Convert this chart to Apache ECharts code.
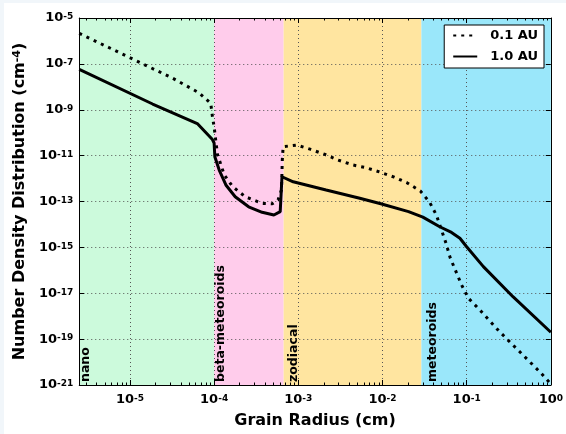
<!DOCTYPE html>
<html>
<head>
<meta charset="utf-8">
<script src="https://cdn.jsdelivr.net/npm/echarts@6/dist/echarts.min.js"></script>
<style>
  html, body { margin: 0; padding: 0; background: #ffffff; }
  #chart { width: 566px; height: 434px; }
</style>
</head>
<body>
<div id="chart"></div>
<script>
// Grain radius (cm) and number density (cm^-4) at 1.0 AU
const radius1AU = [2.5e-6, 1.86e-5, 6.31e-5, 9.55e-5, 1.0e-4, 1.02e-4, 1.15e-4, 1.38e-4, 1.78e-4,
  2.57e-4, 3.72e-4, 5.13e-4, 6.1e-4, 6.4e-4, 8.7e-4, 2.14e-3, 5.37e-3, 9.55e-3, 2.04e-2,
  3.02e-2, 4.79e-2, 6.61e-2, 8.32e-2, 0.1, 0.158, 0.355, 1.0];
const density1AU = [5.75e-8, 1.78e-9, 2.51e-10, 5.01e-11, 3.55e-11, 8.9e-12, 2.34e-12, 5.25e-13, 1.62e-13,
  5.89e-14, 3.39e-14, 2.57e-14, 3.6e-14, 1.2e-12, 7.24e-13, 3.16e-13, 1.38e-13, 7.94e-14, 3.63e-14,
  2.09e-14, 7.94e-15, 4.47e-15, 2.51e-15, 1.07e-15, 1.45e-16, 7.08e-18, 2.0e-19];

// Grain radius (cm) and number density (cm^-4) at 0.1 AU
const radius01AU = [2.5e-6, 3.24e-5, 6.61e-5, 9.12e-5, 9.55e-5, 1.0e-4, 1.05e-4, 1.10e-4, 1.17e-4,
  1.32e-4, 1.66e-4, 2.34e-4, 3.72e-4, 4.9e-4, 5.75e-4, 6.31e-4, 6.46e-4, 6.61e-4, 9.55e-4,
  1.38e-3, 2.04e-3, 2.95e-3, 4.47e-3, 6.31e-3, 9.55e-3, 1.38e-2, 1.95e-2, 2.82e-2, 3.63e-2,
  4.37e-2, 5.69e-2, 6.37e-2, 8.71e-2, 0.105, 0.141, 0.245, 0.427, 0.759, 1.0];
const density01AU = [2.14e-6, 2.34e-8, 5.5e-9, 1.91e-9, 5.01e-10, 1.82e-10, 4.07e-11, 1.07e-11, 5.5e-12,
  1.45e-12, 4.47e-13, 1.62e-13, 8.3e-14, 7.94e-14, 1.17e-13, 3.16e-13, 6.46e-12, 2.45e-11, 2.88e-11,
  1.91e-11, 1.15e-11, 6.46e-12, 3.89e-12, 3.02e-12, 1.86e-12, 1.15e-12, 6.61e-13, 2.88e-13, 9.33e-14,
  2.57e-14, 1.51e-15, 3.55e-16, 2.29e-17, 6.03e-18, 2.0e-18, 2.14e-19, 2.82e-20, 3.39e-21, 1.12e-21];

// Dust population regions
const regionNames = ['nano', 'beta-meteoroids', 'zodiacal', 'meteoroids'];
const regionStart = [2.5e-6, 1.0e-4, 6.7e-4, 2.9e-2];
const regionEnd = [1.0e-4, 6.7e-4, 2.9e-2, 1.0];
const regionColors = ['#ccfadc', '#ffcceb', '#ffe5a0', '#9ae7fa'];

const seriesNames = ['0.1 AU', '1.0 AU'];

// Axis limits: radius in cm (log axis), density as decade exponent (10^n)
const xMin = 2.5e-6, xMax = 1.0;
const yMinExp = -21, yMaxExp = -5, yStepExp = 2;

// Minor tick positions on the radius axis (2..9 x 10^n)
const minorTicks = [];
for (let n = -6; n <= -1; n++) {
  for (let k = 2; k <= 9; k++) {
    const v = k * Math.pow(10, n);
    if (v > xMin && v < xMax) minorTicks.push(v);
  }
}

const FONT = 'DejaVu Sans';

function xPowLabel(v) {
  const e = Math.log10(v);
  const r = Math.round(e);
  if (Math.abs(e - r) > 1e-6) return '';
  return '{b|10}{s|' + r + '}';
}
function yPowLabel(e) {
  return '{b|10}{s|' + Math.round(e) + '}';
}

const tickRich = {
  b: { fontFamily: FONT, fontWeight: 'bold', fontSize: 13, lineHeight: 13, padding: [4, 0, 0, 0], verticalAlign: 'bottom', color: '#000' },
  s: { fontFamily: FONT, fontWeight: 'bold', fontSize: 9, lineHeight: 9, padding: [1, 0, 0, 0], verticalAlign: 'top', color: '#000' }
};

const chart = echarts.init(document.getElementById('chart'), null, { renderer: 'canvas' });

const gridLine = { show: true, lineStyle: { color: '#555', width: 1, type: [1, 3] } };

function toPoints(xs, ys) {
  return xs.map((r, i) => [r, Math.log10(ys[i])]);
}

// horizontal nudge of each region name from its region's left edge (px)
const nameNudge = [-0.5, 0.5, 3.5, 4.5];

chart.setOption({
  backgroundColor: '#ffffff',
  animation: false,
  graphic: [
    { type: 'rect', left: 0, top: 0, shape: { width: 4, height: 434 }, style: { fill: '#f1f6fa' }, silent: true },
    { type: 'rect', left: 0, top: 0, shape: { width: 566, height: 3 }, style: { fill: '#f1f6fa' }, silent: true }
  ],
  grid: { left: 76, right: 14.5, top: 18, bottom: 49, show: false },
  legend: {
    data: seriesNames,
    orient: 'vertical',
    right: 22,
    top: 25,
    padding: [4, 6, 5, 8],
    itemGap: 8,
    itemWidth: 24,
    itemHeight: 12,
    itemStyle: { opacity: 0 },
    backgroundColor: '#ffffff',
    borderColor: '#000000',
    borderWidth: 1,
    borderRadius: 0,
    textStyle: { fontFamily: FONT, fontWeight: 'bold', fontSize: 13, color: '#000', padding: [0, 0, 0, 8] }
  },
  xAxis: [
    {
      type: 'log', logBase: 10, min: xMin, max: xMax, z: 1,
      name: 'Grain Radius (cm)', nameLocation: 'middle', nameGap: 28,
      nameTextStyle: { fontFamily: FONT, fontWeight: 'bold', fontSize: 16, color: '#000' },
      axisLine: { show: true, onZero: false, lineStyle: { color: '#000', width: 1 } },
      axisTick: { show: true, inside: true, length: 5, lineStyle: { color: '#000' } },
      axisLabel: { margin: 8, formatter: xPowLabel, rich: tickRich },
      splitLine: gridLine
    },
    {
      type: 'log', logBase: 10, min: xMin, max: xMax, position: 'top', z: 1,
      axisLine: { show: true, onZero: false, lineStyle: { color: '#000', width: 1 } },
      axisTick: { show: true, inside: true, length: 5, lineStyle: { color: '#000' } },
      axisLabel: { show: false },
      splitLine: { show: false }
    }
  ],
  yAxis: [
    {
      type: 'value', min: yMinExp, max: yMaxExp, interval: yStepExp, z: 1,
      name: '{t|Number Density Distribution (cm}{s|-4}{t|)}',
      nameLocation: 'middle', nameGap: 46,
      nameTextStyle: {
        rich: {
          t: { fontFamily: FONT, fontWeight: 'bold', fontSize: 16, lineHeight: 16, padding: [4, 0, 0, 0], verticalAlign: 'bottom', color: '#000' },
          s: { fontFamily: FONT, fontWeight: 'bold', fontSize: 11, lineHeight: 11, verticalAlign: 'top', color: '#000' }
        }
      },
      axisLine: { show: true, onZero: false, lineStyle: { color: '#000', width: 1 } },
      axisTick: { show: true, inside: true, length: 5, lineStyle: { color: '#000' } },
      axisLabel: { margin: 6, formatter: yPowLabel, rich: tickRich },
      splitLine: gridLine
    },
    {
      type: 'value', min: yMinExp, max: yMaxExp, interval: yStepExp, position: 'right', z: 1,
      axisLine: { show: true, onZero: false, lineStyle: { color: '#000', width: 1 } },
      axisTick: { show: true, inside: true, length: 5, lineStyle: { color: '#000' } },
      axisLabel: { show: false },
      splitLine: { show: false }
    }
  ],
  series: [
    {
      // Shaded population regions with their names
      type: 'custom',
      name: 'regions',
      z: 0,
      silent: true,
      xAxisIndex: 0, yAxisIndex: 0,
      data: regionNames.map((n, i) => [regionStart[i], regionEnd[i]]),
      renderItem: function (params, api) {
        const i = params.dataIndex;
        const p0 = api.coord([api.value(0), yMaxExp]);
        const p1 = api.coord([api.value(1), yMinExp]);
        return {
          type: 'group',
          children: [
            { type: 'rect', shape: { x: p0[0], y: p0[1], width: p1[0] - p0[0], height: p1[1] - p0[1] }, style: { fill: regionColors[i] } },
            {
              type: 'text', x: p0[0] + nameNudge[i], y: p1[1] - 3, rotation: Math.PI / 2,
              style: { text: regionNames[i], font: 'bold 12.5px "DejaVu Sans"', fill: '#000', align: 'left', verticalAlign: 'top' }
            }
          ]
        };
      }
    },
    {
      // Minor ticks on the top and bottom edges
      type: 'custom',
      name: 'minor',
      z: 3,
      silent: true,
      xAxisIndex: 0, yAxisIndex: 0,
      data: minorTicks.map(v => [v]),
      renderItem: function (params, api) {
        const b = api.coord([api.value(0), yMinExp]);
        const t = api.coord([api.value(0), yMaxExp]);
        const x = Math.round(b[0]) + 0.5;
        return {
          type: 'group',
          children: [
            { type: 'line', shape: { x1: x, y1: b[1], x2: x, y2: b[1] - 2.5 }, style: { stroke: '#000', lineWidth: 1 } },
            { type: 'line', shape: { x1: x, y1: t[1], x2: x, y2: t[1] + 2.5 }, style: { stroke: '#000', lineWidth: 1 } }
          ]
        };
      }
    },
    {
      name: seriesNames[0],
      type: 'line',
      z: 4,
      xAxisIndex: 0, yAxisIndex: 0,
      data: toPoints(radius01AU, density01AU),
      symbol: 'none',
      showSymbol: false,
      smooth: false,
      lineStyle: { color: '#000', width: 3, type: [3, 5], cap: 'butt' },
      itemStyle: { color: '#000' }
    },
    {
      name: seriesNames[1],
      type: 'line',
      z: 4,
      xAxisIndex: 0, yAxisIndex: 0,
      data: toPoints(radius1AU, density1AU),
      symbol: 'none',
      showSymbol: false,
      smooth: false,
      lineStyle: { color: '#000', width: 3, type: 'solid' },
      itemStyle: { color: '#000' }
    }
  ]
});
</script>
</body>
</html>
